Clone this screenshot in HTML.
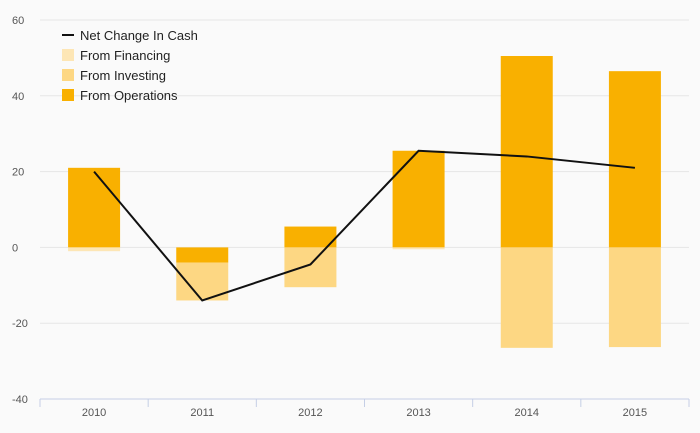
<!DOCTYPE html>
<html><head><meta charset="utf-8"><style>
body{margin:0;background:#fafafa;font-family:"Liberation Sans",sans-serif}
svg{display:block}
</style></head><body>
<svg width="700" height="433">
<rect width="700" height="433" fill="#fafafa"/>
<g id="grid"></g><g id="bars"></g><g id="line"></g><g id="xaxis"></g>
<g font-size="13" fill="#222">
 <line x1="62" y1="35" x2="74" y2="35" stroke="#111" stroke-width="2"/>
 <text x="80" y="40">Net Change In Cash</text>
 <rect x="62" y="49" width="12" height="12" fill="#fde6b5"/>
 <text x="80" y="60">From Financing</text>
 <rect x="62" y="69" width="12" height="12" fill="#fdd783"/>
 <text x="80" y="80">From Investing</text>
 <rect x="62" y="89" width="12" height="12" fill="#f9b000"/>
 <text x="80" y="100">From Operations</text>
</g>
</svg>
<script>
const categories=["2010","2011","2012","2013","2014","2015"];
const operations=[21,-4,5.5,25.5,50.5,46.5];
const investing=[0,-10,-10.5,0,-26.5,-26.3];
const financing=[-1,0,0,-0.5,0,0];
const netChange=[20,-14,-4.5,25.5,24,21];
const yTicks=[60,40,20,0,-20,-40];
const NS="http://www.w3.org/2000/svg";
const x0=40,x1=689,yTop=20,yBot=399,vMax=60,vMin=-40;
const bw=(x1-x0)/categories.length;
const y=v=>yTop+(vMax-v)/(vMax-vMin)*(yBot-yTop);
const cx=i=>x0+bw*(i+0.5);
function mk(t,a,p){const e=document.createElementNS(NS,t);for(const k in a)e.setAttribute(k,a[k]);p.appendChild(e);return e;}
const grid=document.getElementById('grid');
yTicks.forEach(v=>{
 const l=mk('line',{x1:40,x2:689,y1:y(v),y2:y(v),stroke:'#e6e6e6'},grid);
 
 
 const t=mk('text',{x:12,y:y(v)+4,'font-size':11,fill:'#555'},grid);
 
 
 t.textContent=v;
});
const bars=document.getElementById('bars');
categories.forEach((c,i)=>{
 let pos=0,neg=0;
 [[operations,'#f9b000','operations'],[investing,'#fdd783','investing'],[financing,'#fde6b5','financing']].forEach(([arr,col,nm])=>{
  const v=arr[i];if(!v)return;
  let a,b;
  if(v>0){a=pos;b=pos+v;pos=b;}else{a=neg;b=neg+v;neg=b;}
  const r=mk('rect',{x:cx(i)-26,width:52,y:Math.min(y(a),y(b)),height:Math.abs(y(a)-y(b)),fill:col},bars);
  
  
 });
});
const ln=mk('polyline',{points:netChange.map((v,i)=>cx(i)+','+y(v)).join(' '),fill:'none',stroke:'#111','stroke-width':2},document.getElementById('line'));


const xa=document.getElementById('xaxis');
const al=mk('line',{x1:x0,x2:x1,y1:399,y2:399,stroke:'#c5cfe6'},xa);


for(let i=0;i<=categories.length;i++){
 const tk=mk('line',{x1:x0+bw*i,x2:x0+bw*i,y1:399,y2:407,stroke:'#c5cfe6'},xa);
 
 
}
categories.forEach((c,i)=>{
 const t=mk('text',{x:cx(i),y:416,'font-size':11,fill:'#555','text-anchor':'middle'},xa);
 
 
 t.textContent=c;
});
</script>
</body></html>
